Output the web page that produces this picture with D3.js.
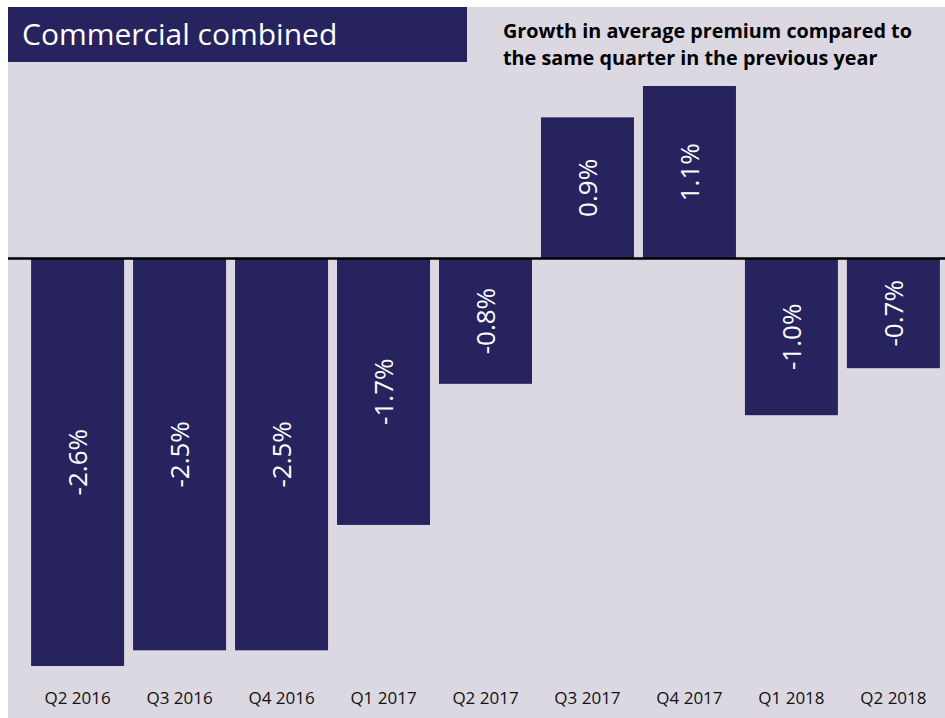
<!DOCTYPE html>
<html>
<head>
<meta charset="utf-8">
<script src="https://cdn.jsdelivr.net/npm/d3@7"></script>
<style>
  body { margin: 0; background: #fff; }
</style>
</head>
<body>
<script>
const w = 945;
const h = 718;

// quarters and growth values (%)
const quarters = ["Q2 2016", "Q3 2016", "Q4 2016", "Q1 2017", "Q2 2017", "Q3 2017", "Q4 2017", "Q1 2018", "Q2 2018"];
const growth = [-2.6, -2.5, -2.5, -1.7, -0.8, 0.9, 1.1, -1.0, -0.7];
const valueLabels = ["-2.6%", "-2.5%", "-2.5%", "-1.7%", "-0.8%", "0.9%", "1.1%", "-1.0%", "-0.7%"];

const navy = "#27235f";
const font = "'Open Sans', sans-serif";

const svg = d3.select("body").append("svg").attr("width", w).attr("height", h);

// panel background
svg.append("rect")
    .attr("x", 8).attr("y", 7)
    .attr("width", w - 8).attr("height", h - 7)
    .attr("fill", "#dbd8e2");

////  Scales  ////
const x = d3.scaleBand()
    .domain(quarters)
    .range([26, 945])
    .paddingInner(0.088)
    .paddingOuter(0.05);

const y = d3.scaleLinear()
    .domain([-2.6, 1.1])
    .range([666, 86]);

////  Bars  ////
svg.selectAll("rect.bar")
    .data(growth)
    .enter()
    .append("rect")
    .attr("class", "bar")
    .attr("x", (d, i) => x(quarters[i]))
    .attr("y", d => y(Math.max(0, d)))
    .attr("width", x.bandwidth())
    .attr("height", d => Math.abs(y(d) - y(0)))
    .attr("fill", navy);

// zero line
svg.append("line")
    .attr("x1", 8).attr("x2", w)
    .attr("y1", y(0)).attr("y2", y(0))
    .attr("stroke", "#000")
    .attr("stroke-width", 2.5);

////  Value labels (rotated)  ////
svg.selectAll("text.val")
    .data(growth)
    .enter()
    .append("text")
    .attr("class", "val")
    .attr("transform", (d, i) => {
        const cx = x(quarters[i]) + x.bandwidth() / 2;
        const cy = (y(d) + y(0)) / 2;
        return `translate(${cx},${cy}) rotate(-90)`;
    })
    .attr("text-anchor", "middle")
    .attr("dy", "0.35em")
    .attr("font-family", font)
    .attr("font-size", "26px")
    .attr("fill", "#fff")
    .text((d, i) => valueLabels[i]);

////  Category labels  ////
svg.selectAll("text.cat")
    .data(quarters)
    .enter()
    .append("text")
    .attr("class", "cat")
    .attr("x", d => x(d) + x.bandwidth() / 2)
    .attr("y", 704)
    .attr("text-anchor", "middle")
    .attr("font-family", font)
    .attr("font-size", "17px")
    .attr("font-weight", 500)
    .attr("fill", "#111")
    .text(d => d);

////  Title box  ////
svg.append("rect")
    .attr("x", 8).attr("y", 7)
    .attr("width", 459).attr("height", 55)
    .attr("fill", navy);

svg.append("text")
    .attr("x", 22).attr("y", 45)
    .attr("font-family", font)
    .attr("font-size", "30px")
    .attr("fill", "#fff")
    .text("Commercial combined");

const subtitle = ["Growth in average premium compared to", "the same quarter in the previous year"];
svg.selectAll("text.sub")
    .data(subtitle)
    .enter()
    .append("text")
    .attr("class", "sub")
    .attr("x", 503)
    .attr("y", (d, i) => 38 + i * 27)
    .attr("font-family", font)
    .attr("font-size", "19.8px")
    .attr("font-weight", 700)
    .attr("fill", "#000")
    .text(d => d);
</script>
</body>
</html>
